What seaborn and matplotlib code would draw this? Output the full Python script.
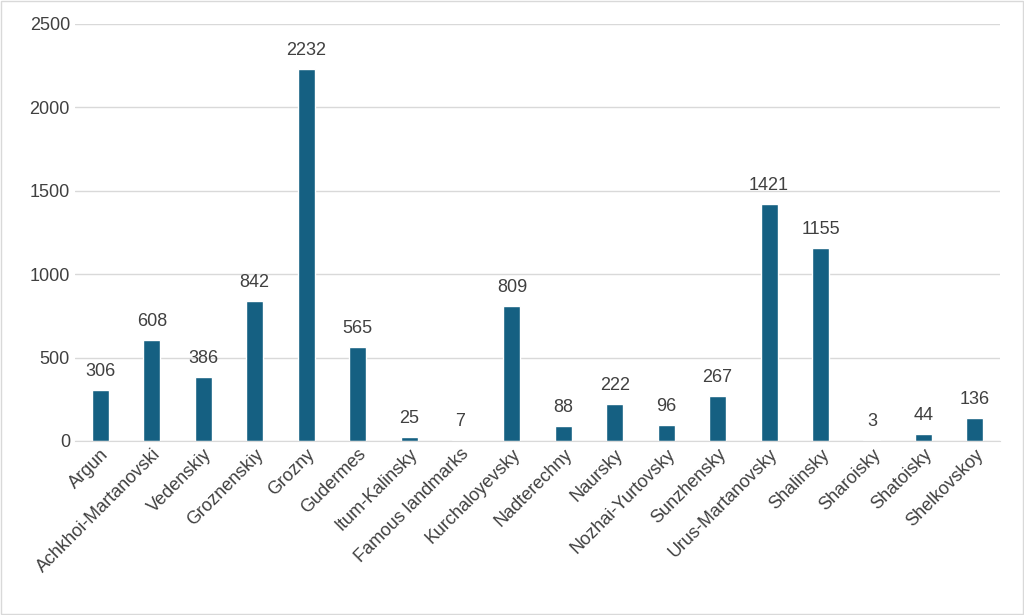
import pandas as pd
import seaborn as sns
import matplotlib.pyplot as plt

districts = ['Argun', 'Achkhoi-Martanovski', 'Vedenskiy', 'Groznenskiy', 'Grozny',
             'Gudermes', 'Itum-Kalinsky', 'Famous landmarks', 'Kurchaloyevsky',
             'Nadterechny', 'Naursky', 'Nozhai-Yurtovsky', 'Sunzhensky',
             'Urus-Martanovsky', 'Shalinsky', 'Sharoisky', 'Shatoisky', 'Shelkovskoy']
counts = [306, 608, 386, 842, 2232, 565, 25, 7, 809, 88, 222, 96, 267, 1421, 1155, 3, 44, 136]

data = pd.DataFrame({'district': districts, 'count': counts})

sns.set_style('white')
plt.rcParams['font.family'] = ['Liberation Sans', 'DejaVu Sans']

fig = plt.figure(figsize=(10.24, 6.15), dpi=100)
ax = fig.add_axes([0.073, 0.283, 0.904, 0.678])
fig.patches.append(plt.Rectangle((0.001, 0.001), 0.998, 0.998, transform=fig.transFigure,
                                 fill=False, edgecolor='#d9d9d9', linewidth=1))

sns.barplot(x='district', y='count', data=data, color='#156082', width=0.33,
            saturation=1, ax=ax)

for i, v in enumerate(counts):
    ax.text(i, v + 60, str(v), ha='center', va='bottom', fontsize=13, color='#404040')

ax.set_ylim(0, 2500)
ax.set_yticks(range(0, 2501, 500))
ax.yaxis.grid(True, color='#d9d9d9', linewidth=1)
ax.set_axisbelow(True)
for s in ['top', 'right', 'left']:
    ax.spines[s].set_visible(False)
ax.spines['bottom'].set_color('#d9d9d9')
ax.set_xlabel('')
ax.set_ylabel('')
ax.tick_params(axis='both', length=0, labelsize=13, labelcolor='#404040')
plt.setp(ax.get_xticklabels(), rotation=45, ha='right', rotation_mode='anchor')
ax.set_xlim(-0.5, len(districts) - 0.5)

fig.savefig('out.png', dpi=100)
